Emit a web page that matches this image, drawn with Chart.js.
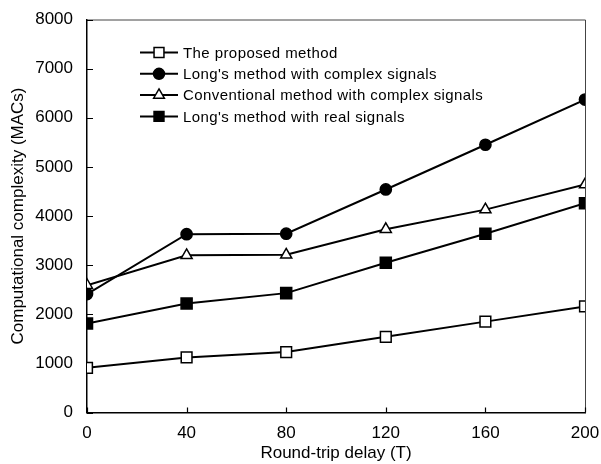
<!DOCTYPE html>
<html>
<head>
<meta charset="utf-8">
<script src="https://cdn.jsdelivr.net/npm/chart.js@4.4.1/dist/chart.umd.min.js"></script>
<style>
  html, body { margin: 0; padding: 0; background: #fff; }
  #wrap { width: 601px; height: 464px; }
</style>
</head>
<body>
<div id="wrap"><canvas id="c" width="601" height="464"></canvas></div>
<script>
// ---- data ----
const delays = [0, 40, 80, 120, 160, 200];
const proposed = [910, 1120, 1230, 1540, 1850, 2160];
const longComplex = [2410, 3630, 3640, 4540, 5450, 6370];
const conventional = [2590, 3200, 3210, 3730, 4130, 4640];
const longReal = [1810, 2220, 2430, 3050, 3640, 4260];
const seriesLabels = [
  "The proposed method",
  "Long's method with complex signals",
  "Conventional method with complex signals",
  "Long's method with real signals"
];
const xTitle = "Round-trip delay (T)";
const yTitle = "Computational complexity (MACs)";

const FONT = "'Liberation Sans', Arial, sans-serif";
const toXY = arr => delays.map((d, i) => ({ x: d, y: arr[i] }));

function ds(label, arr, style, radius, fill) {
  return {
    label, data: toXY(arr),
    borderColor: '#000', borderWidth: 2,
    pointStyle: style, pointRadius: radius, pointHoverRadius: radius,
    pointBackgroundColor: fill, pointBorderColor: '#000', pointBorderWidth: 1.5,
    tension: 0, fill: false
  };
}

function drawMarker(ctx, style, r, x, y, fill) {
  ctx.save();
  ctx.fillStyle = fill; ctx.strokeStyle = '#000'; ctx.lineWidth = 1.5;
  ctx.beginPath();
  if (style === 'rect') {
    const s = r * Math.SQRT1_2;
    ctx.rect(x - s, y - s, 2 * s, 2 * s);
  } else if (style === 'circle') {
    ctx.arc(x, y, r, 0, Math.PI * 2);
  } else {
    for (let k = 0; k < 3; k++) {
      const ang = k * 2 * Math.PI / 3;
      const px = x + Math.sin(ang) * r, py = y - Math.cos(ang) * r;
      if (k === 0) ctx.moveTo(px, py); else ctx.lineTo(px, py);
    }
    ctx.closePath();
  }
  ctx.fill(); ctx.stroke();
  ctx.restore();
}

const framePlugin = {
  id: 'frame',
  beforeDatasetsDraw(chart) {
    const { ctx, chartArea: a, scales } = chart;
    ctx.save();
    ctx.strokeStyle = '#444';
    ctx.lineWidth = 1;
    ctx.beginPath();
    ctx.moveTo(a.left, a.top + 0.5); ctx.lineTo(a.right + 0.5, a.top + 0.5);
    ctx.lineTo(a.right + 0.5, a.bottom);
    ctx.stroke();
    ctx.strokeStyle = '#000';
    ctx.lineWidth = 1.2;
    ctx.beginPath();
    scales.y.ticks.forEach(t => {
      const y = Math.round(scales.y.getPixelForValue(t.value)) + 0.5;
      ctx.moveTo(a.left, y); ctx.lineTo(a.left + 6, y);
    });
    scales.x.ticks.forEach(t => {
      const x = Math.round(scales.x.getPixelForValue(t.value)) + 0.5;
      ctx.moveTo(x, a.bottom); ctx.lineTo(x, a.bottom - 5);
    });
    ctx.stroke();
    ctx.restore();
  }
};

const legendPlugin = {
  id: 'insideLegend',
  afterDatasetsDraw(chart) {
    const { ctx, chartArea: a } = chart;
    const x0 = a.left + 53, x1 = a.left + 91, mx = (x0 + x1) / 2, tx = a.left + 96;
    const y0 = a.top + 33, dy = 21.3;
    ctx.save();
    chart.data.datasets.forEach((d, i) => {
      const y = y0 + i * dy;
      ctx.strokeStyle = '#000'; ctx.lineWidth = 2;
      ctx.beginPath(); ctx.moveTo(x0, y); ctx.lineTo(x1, y); ctx.stroke();
      const r = d.pointStyle === 'rect' ? 7 : (d.pointStyle === 'circle' ? 5.5 : 6.2);
      drawMarker(ctx, d.pointStyle, r, mx, y, d.pointBackgroundColor);
      ctx.fillStyle = '#000';
      ctx.font = '15px ' + FONT;
      ctx.letterSpacing = '0.42px';
      ctx.textBaseline = 'middle';
      ctx.textAlign = 'left';
      ctx.fillText(d.label, tx, y + 1);
      ctx.letterSpacing = '0px';
    });
    ctx.restore();
  }
};

new Chart(document.getElementById('c'), {
  type: 'line',
  data: {
    datasets: [
      ds(seriesLabels[0], proposed, 'rect', 7.6, '#fff'),
      ds(seriesLabels[1], longComplex, 'circle', 5.6, '#000'),
      ds(seriesLabels[2], conventional, 'triangle', 6.4, '#fff'),
      ds(seriesLabels[3], longReal, 'rect', 7.8, '#000')
    ]
  },
  options: {
    responsive: false,
    animation: false,
    layout: { padding: { left: 0, right: 16, top: 19.5, bottom: 2 } },
    plugins: { legend: { display: false }, tooltip: { enabled: false } },
    scales: {
      x: {
        type: 'linear', min: 0, max: 200,
        ticks: { stepSize: 40, color: '#000', font: { family: FONT, size: 17, lineHeight: 1 }, padding: 12, maxRotation: 0,
                 callback: v => String(v) },
        grid: { display: false, drawTicks: false, tickLength: 0 },
        border: { display: true, color: '#000', width: 1.5 },
        title: { display: true, text: xTitle, color: '#000', font: { family: FONT, size: 17, lineHeight: 1 }, padding: { top: 3, bottom: 0 } },
        afterFit: s => { s.height = 49.5; s.paddingLeft = 0; s.paddingRight = 0; }
      },
      y: {
        min: 0, max: 8000,
        ticks: { stepSize: 1000, color: '#000', font: { family: FONT, size: 17, lineHeight: 1 }, padding: 14,
                 callback: v => String(v) },
        grid: { display: false, drawTicks: false, tickLength: 0 },
        border: { display: true, color: '#000', width: 1.5 },
        title: { display: true, text: yTitle, color: '#000', font: { family: FONT, size: 17, lineHeight: 1 }, padding: { top: 9.5, bottom: 0 } },
        afterFit: s => { s.width = 87; s.paddingTop = 0; s.paddingBottom = 0; }
      }
    }
  },
  plugins: [framePlugin, legendPlugin]
});
</script>
</body>
</html>
